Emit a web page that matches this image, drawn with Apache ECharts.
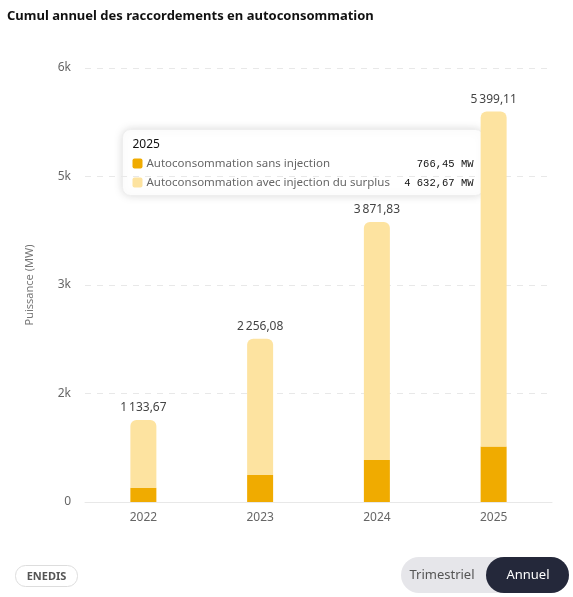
<!DOCTYPE html>
<html><head><meta charset="utf-8">
<script src="https://cdn.jsdelivr.net/npm/echarts@6/dist/echarts.min.js"></script>
<style>html,body{margin:0;padding:0;background:#fff}#c{width:573px;height:597px}</style>
</head><body><div id="c"></div>
<script>
const categories = ['2022','2023','2024','2025'];
const sansInjection = [195, 373, 580, 766.45];
const avecInjection = [938.67, 1883.08, 3291.83, 4632.67];
const totals = [1133.67, 2256.08, 3871.83, 5399.11];
const fmt = v => v.toFixed(2).replace('.', ',').replace(/\B(?=(\d{3})+(?!\d))/g, '\u202f');
const chart = echarts.init(document.getElementById('c'));
const font = 'Segoe UI, Noto Sans, sans-serif';
chart.setOption({
  animation:false,
  textStyle:{fontFamily:font},
  title:{text:'Cumul annuel des raccordements en autoconsommation',left:2,top:5,
    textStyle:{fontSize:13,fontWeight:'bold',color:'#111',fontFamily:font}},
  grid:{left:85,right:21,top:68,bottom:95},
  xAxis:{type:'category',data:categories,axisTick:{show:false},
    axisLine:{lineStyle:{color:'#e8e8e8'}},axisLabel:{color:'#666',fontSize:12,margin:10}},
  yAxis:{type:'value',min:0,max:6000,interval:1500,name:'Puissance (MW)',nameLocation:'middle',nameGap:50,
    nameTextStyle:{color:'#777',fontSize:11},
    axisLabel:{color:'#666',fontSize:12,margin:14,formatter:v=>v===0?'0':Math.round(v/1000)+'k'},
    splitLine:{lineStyle:{type:[6,6],color:'#e8e8e8'}}},
  series:[
    {name:'Autoconsommation sans injection',type:'bar',stack:'a',barWidth:26,data:sansInjection,itemStyle:{color:'#f0ab00'}},
    {name:'Autoconsommation avec injection du surplus',type:'bar',stack:'a',barWidth:26,data:avecInjection,
      itemStyle:{color:'#fde3a0',borderRadius:[6,6,0,0]},
      label:{show:true,position:'top',distance:6,color:'#444',fontSize:12,formatter:p=>fmt(totals[p.dataIndex])}}
  ],
  graphic:[
    {type:'group',left:122,top:129,children:[
      {type:'rect',shape:{x:0,y:0,width:361,height:66,r:8},style:{fill:'#fff',stroke:'#eee',shadowBlur:10,shadowColor:'rgba(0,0,0,0.15)'}},
      {type:'text',x:10,y:9,style:{text:'2025',fontSize:12,fill:'#111',fontFamily:font}},
      {type:'rect',shape:{x:10,y:29,width:10,height:10,r:2},style:{fill:'#f0ab00'}},
      {type:'text',x:24,y:28,style:{text:'Autoconsommation sans injection',fontSize:11.5,fill:'#666',fontFamily:font}},
      {type:'text',x:351,y:29,style:{text:fmt(sansInjection[3])+' MW',fontSize:10.5,fill:'#111',align:'right',fontFamily:'Liberation Mono'}},
      {type:'rect',shape:{x:10,y:48,width:10,height:10,r:2},style:{fill:'#fde3a0'}},
      {type:'text',x:24,y:47,style:{text:'Autoconsommation avec injection du surplus',fontSize:11.5,fill:'#666',fontFamily:font}},
      {type:'text',x:351,y:48,style:{text:'4 632,67 MW',fontSize:10.5,fill:'#111',align:'right',fontFamily:'Liberation Mono'}}
    ]},
    {type:'group',left:15,top:565,children:[
      {type:'rect',shape:{x:0,y:0,width:62,height:21,r:10},style:{fill:'#fff',stroke:'#ddd'}},
      {type:'text',x:31,y:11,style:{text:'ENEDIS',fontSize:11,fontWeight:'bold',fill:'#555',align:'center',verticalAlign:'middle',fontFamily:font}}
    ]},
    {type:'group',left:401,top:557,children:[
      {type:'rect',shape:{x:0,y:0,width:168,height:36,r:18},style:{fill:'#e6e6ea'}},
      {type:'rect',shape:{x:85,y:0,width:83,height:36,r:18},style:{fill:'#24283a'}},
      {type:'text',x:41,y:18,style:{text:'Trimestriel',fontSize:13,fill:'#555',align:'center',verticalAlign:'middle',fontFamily:font}},
      {type:'text',x:127,y:18,style:{text:'Annuel',fontSize:13,fill:'#fff',align:'center',verticalAlign:'middle',fontFamily:font}}
    ]}
  ]
});
</script></body></html>
